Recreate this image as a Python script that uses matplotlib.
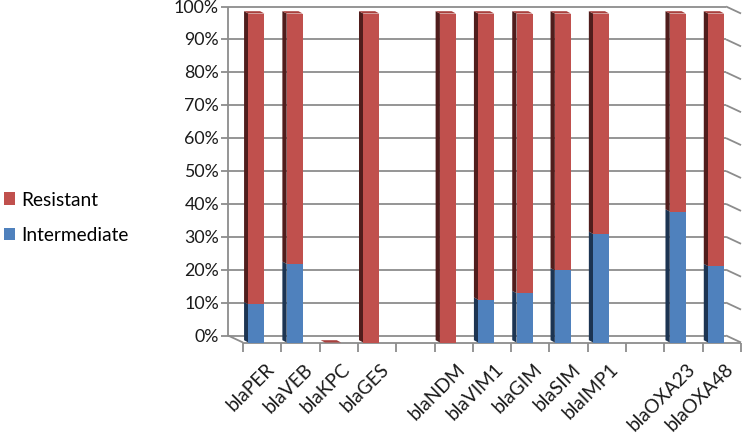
import matplotlib.pyplot as plt
from matplotlib.patches import Polygon, Patch

# data (percent of isolates), '' marks an empty category slot
categories = ["blaPER", "blaVEB", "blaKPC", "blaGES", "",
              "blaNDM", "blaVIM1", "blaGIM", "blaSIM", "blaIMP1", "",
              "blaOXA23", "blaOXA48"]
intermediate = [11.6, 23.9, 0, 0, 0, 0, 13.0, 15.0, 21.9, 33.0, 0, 39.8, 23.2]
resistant = [88.4, 76.1, 0, 100, 0, 100, 87.0, 85.0, 78.1, 67.0, 0, 60.2, 76.8]
y_ticks = [0, 10, 20, 30, 40, 50, 60, 70, 80, 90, 100]
series_names = ["Resistant", "Intermediate"]

RED, RED_SIDE, RED_TOP = "#C0504D", "#501D1C", "#A8403D"
BLUE, BLUE_SIDE, BLUE_TOP = "#4F81BD", "#1C3452", "#3F6FA8"
GRID = "#8C8C8C"
FONT = "Lato"

# pixels per unit: 38.31 px per slot, 3.29 px per percent
PX, PY = 38.31, 3.29
# back wall offset relative to front plane
BX, BY = -15 / PX, 7 / PY
# bar depth offset
DX, DY = -4.3 / PX, 2.3 / PY
BAR_L, BAR_W = 0.14, 0.42

fig = plt.figure(figsize=(7.44, 4.35), dpi=100)
ax = fig.add_axes([0, 0, 1, 1])
ax.set_xlim(-243 / PX, (744 - 243) / PX)
ax.set_ylim(-(435 - 343.5) / PY, 343.5 / PY)
ax.axis("off")

n = len(categories)
gkw = dict(color=GRID, lw=1.3, zorder=1, solid_capstyle="butt")

# back wall gridlines + right wall diagonals
for v in y_ticks:
    ax.plot([BX, n + BX], [v + BY, v + BY], **gkw)
    ax.plot([n + BX, n], [v + BY, v], **gkw)
    ax.plot([BX - 7 / PX, BX], [v + BY, v + BY], **gkw)
    ax.text(BX - 9 / PX, v + BY, f"{v}%", ha="right", va="center",
            fontsize=12.8, family=FONT, color="#1a1a1a")
# y axis on back wall
ax.plot([BX, BX], [BY, 100 + BY], **gkw)
# floor left edge and front edge
ax.plot([BX, 0], [BY, 0], **gkw)
ax.plot([0, n], [0, 0], **gkw)
for k in range(n + 1):
    ax.plot([k, k], [0, -9.5 / PY], **gkw)


def box(x0, y0, y1, side, top, draw_top):
    # side face (left) and optional top face
    ax.add_patch(Polygon([(x0, y0), (x0, y1), (x0 + DX, y1 + DY), (x0 + DX, y0 + DY)],
                         closed=True, fc=side, ec="none", zorder=3))
    if draw_top:
        ax.add_patch(Polygon([(x0, y1), (x0 + BAR_W, y1), (x0 + BAR_W + DX, y1 + DY),
                              (x0 + DX, y1 + DY)], closed=True, fc=top, ec="none", zorder=3))


xs = [k + BAR_L + BAR_W / 2 for k in range(n)]
for k, cat in enumerate(categories):
    if not cat:
        continue
    x0 = k + BAR_L
    ib, rb = intermediate[k], resistant[k]
    if ib > 0:
        box(x0, 0, ib, BLUE_SIDE, BLUE_TOP, rb == 0)
    box(x0, ib, ib + rb, RED_SIDE, RED_TOP, True)

ax.bar(xs, intermediate, width=BAR_W, color=BLUE, zorder=4)
ax.bar(xs, resistant, width=BAR_W, bottom=intermediate, color=RED, zorder=4)

for k, cat in enumerate(categories):
    if cat:
        ax.text(k + 0.58, -17 / PY, cat, rotation=45, rotation_mode="anchor",
                ha="right", va="top", fontsize=13.8, family=FONT, color="#1a1a1a")

handles = [Patch(fc=RED, ec="none"), Patch(fc=BLUE, ec="none")]
fig.legend(handles, series_names, loc="center left", bbox_to_anchor=(0.0, 0.498),
           frameon=False, borderaxespad=0, borderpad=0.2, handlelength=0.6,
           handleheight=0.6, handletextpad=0.32, labelspacing=0.95,
           prop={"family": FONT, "size": 13.8})

fig.savefig("out.png", dpi=100)
